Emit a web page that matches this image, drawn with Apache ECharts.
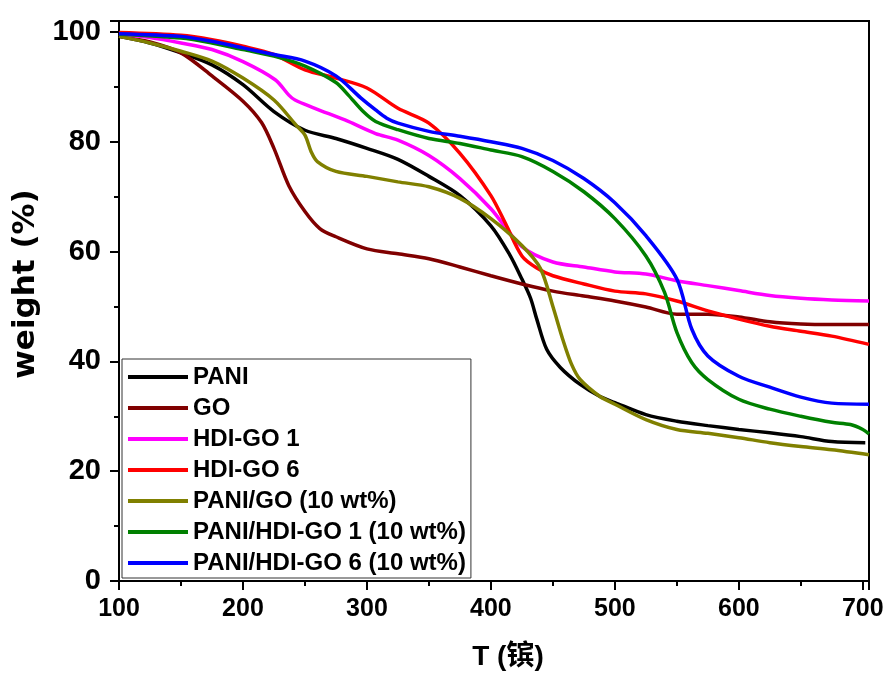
<!DOCTYPE html>
<html>
<head>
<meta charset="utf-8">
<script src="https://cdn.jsdelivr.net/npm/echarts@6/dist/echarts.min.js"></script>
<style>
  html, body { margin: 0; padding: 0; background: #fff; }
  #chart { width: 893px; height: 678px; }
</style>
</head>
<body>
<div id="chart"></div>
<script>
// TGA curves, [temperature, weight %]
var pani = [[100,99.2],[125,98],[150,96.2],[175,94],[200,90.4],[225,85.5],[250,82.1],[275,80.6],[300,78.8],[325,76.8],[350,73.7],[375,70.2],[400,64.7],[415,59.5],[425,55],[432,51.5],[437,47.7],[445,42.2],[456,38.9],[472,35.8],[488,33.6],[500,32.5],[525,30.3],[550,29.1],[575,28.3],[600,27.6],[625,27],[650,26.3],[675,25.4],[702,25.2]];
var go = [[100,99.2],[125,98.2],[150,96.2],[175,92],[200,87.4],[215,83.5],[225,78.8],[237,72],[250,67.3],[262,64.2],[275,62.7],[300,60.5],[325,59.6],[350,58.7],[375,57.2],[400,55.6],[425,54.1],[450,52.8],[475,51.9],[500,51],[525,49.9],[550,48.6],[575,48.6],[600,48.1],[625,47.2],[650,46.8],[675,46.7],[705,46.7]];
var hdiGo1 = [[100,99.6],[125,99],[150,98],[175,96.8],[200,94.6],[226,91.3],[237,88.5],[242,87.6],[258,86.1],[285,83.7],[307,81.5],[325,80.3],[350,77.5],[375,73.3],[400,67.8],[425,60.9],[450,58.1],[475,57.2],[500,56.3],[525,55.9],[550,54.7],[575,53.8],[600,52.9],[625,52],[650,51.5],[675,51.2],[705,51]];
var hdiGo6 = [[100,99.9],[150,99.4],[175,98.6],[200,97.4],[225,95.9],[250,93.1],[275,91.6],[300,89.8],[325,86.1],[350,83.4],[375,77.9],[400,70.2],[412,65],[425,59.2],[437,57],[450,55.6],[475,54.1],[500,52.8],[525,52.3],[550,51],[575,49.2],[600,47.7],[625,46.4],[650,45.5],[675,44.6],[705,43.1]];
var paniGo = [[100,99.2],[125,98],[150,96.5],[175,94.7],[200,91.6],[225,87.6],[243,83],[250,81.2],[255,78.2],[260,76.4],[275,74.6],[300,73.7],[325,72.7],[350,71.8],[375,69.7],[400,66],[425,61.1],[440,56.9],[450,50],[458,44],[465,39.5],[472,36.7],[488,33.6],[500,32.2],[525,29.4],[550,27.6],[575,26.9],[600,26.1],[625,25.2],[650,24.5],[675,23.9],[705,23]];
var paniHdiGo1 = [[100,99.6],[150,98.9],[175,98],[200,96.8],[225,95.6],[250,93.8],[275,90.8],[285,88.5],[297,85.5],[307,83.7],[325,82.2],[350,80.6],[375,79.7],[400,78.5],[425,77.3],[450,74.6],[475,70.9],[500,66],[525,59.2],[540,52.6],[550,45.3],[562,39.8],[575,36.7],[600,33.1],[625,31.3],[650,30],[675,28.9],[690,28.5],[700,27.6],[705,26.8]];
var paniHdiGo6 = [[100,99.7],[150,99.2],[175,98.3],[200,97.1],[225,95.9],[250,94.7],[275,92],[295,88],[307,85.8],[316,84.3],[325,83.4],[350,81.9],[375,81],[400,80],[425,78.8],[450,76.6],[475,73.3],[500,68.9],[525,62.9],[550,55],[562,45.9],[575,41],[600,37.3],[625,35.3],[650,33.5],[675,32.4],[705,32.2]];

var names = ['PANI', 'GO', 'HDI-GO 1', 'HDI-GO 6', 'PANI/GO (10 wt%)', 'PANI/HDI-GO 1 (10 wt%)', 'PANI/HDI-GO 6 (10 wt%)'];
var curves = [pani, go, hdiGo1, hdiGo6, paniGo, paniHdiGo1, paniHdiGo6];
var colors = ['#000000', '#800000', '#ff00ff', '#ff0000', '#808000', '#008000', '#0000ff'];

var series = [];
for (var i = 0; i < names.length; i++) {
  series.push({
    name: names[i],
    type: 'line',
    data: curves[i],
    smooth: 0.3,
    symbol: 'none',
    lineStyle: { width: 3.5, color: colors[i] },
    itemStyle: { color: colors[i] }
  });
}

var chart = echarts.init(document.getElementById('chart'));
chart.setOption({
  backgroundColor: '#fff',
  animation: false,
  color: colors,
  grid: {
    left: 119, right: 24, top: 21, bottom: 97,
    show: true, borderColor: '#000', borderWidth: 2
  },
  legend: {
    orient: 'vertical',
    left: 122,
    top: 359,
    data: names.map(function (n) { return { name: n, icon: 'rect' }; }),
    itemWidth: 60,
    itemHeight: 4,
    itemGap: 7,
    padding: [6, 5, 3, 6],
    borderColor: '#333',
    borderWidth: 1,
    backgroundColor: '#fff',
    textStyle: {
      fontFamily: 'Liberation Sans',
      fontWeight: 'bold',
      fontSize: 24,
      lineHeight: 24,
      color: '#000'
    }
  },
  xAxis: {
    type: 'value',
    min: 100,
    max: 705,
    interval: 100,
    name: 'T (镔)',
    nameLocation: 'middle',
    nameGap: 62,
    nameTextStyle: {
      fontFamily: "'Liberation Sans', 'Noto Sans CJK SC'",
      fontWeight: 'bold',
      fontSize: 28,
      color: '#000',
      padding: [0, 0, 0, 28]
    },
    splitLine: { show: false },
    axisLine: { lineStyle: { color: '#000', width: 2 } },
    axisTick: { length: 9, lineStyle: { color: '#000', width: 2 } },
    minorTick: { show: true, splitNumber: 2, length: 5, lineStyle: { color: '#000', width: 2 } },
    axisLabel: {
      margin: 16,
      fontFamily: 'Liberation Sans',
      fontWeight: 'bold',
      fontSize: 25,
      color: '#000',
      formatter: function (v) { return v % 100 === 0 ? String(v) : ''; }
    }
  },
  yAxis: {
    type: 'value',
    min: 0,
    max: 102,
    interval: 20,
    name: 'weight (%)',
    nameLocation: 'middle',
    nameGap: 70,
    nameTextStyle: {
      fontFamily: 'DejaVu Sans',
      fontWeight: 'bold',
      fontSize: 31,
      color: '#000',
      padding: [0, 0, 0, 34]
    },
    splitLine: { show: false },
    axisLine: { lineStyle: { color: '#000', width: 2 } },
    axisTick: { length: 9, lineStyle: { color: '#000', width: 2 } },
    minorTick: { show: true, splitNumber: 2, length: 5, lineStyle: { color: '#000', width: 2 } },
    axisLabel: {
      margin: 18,
      fontFamily: 'Liberation Sans',
      fontWeight: 'bold',
      fontSize: 29,
      color: '#000',
      formatter: function (v) { return v % 20 === 0 ? String(v) : ''; }
    }
  },
  series: series
});
</script>
</body>
</html>
